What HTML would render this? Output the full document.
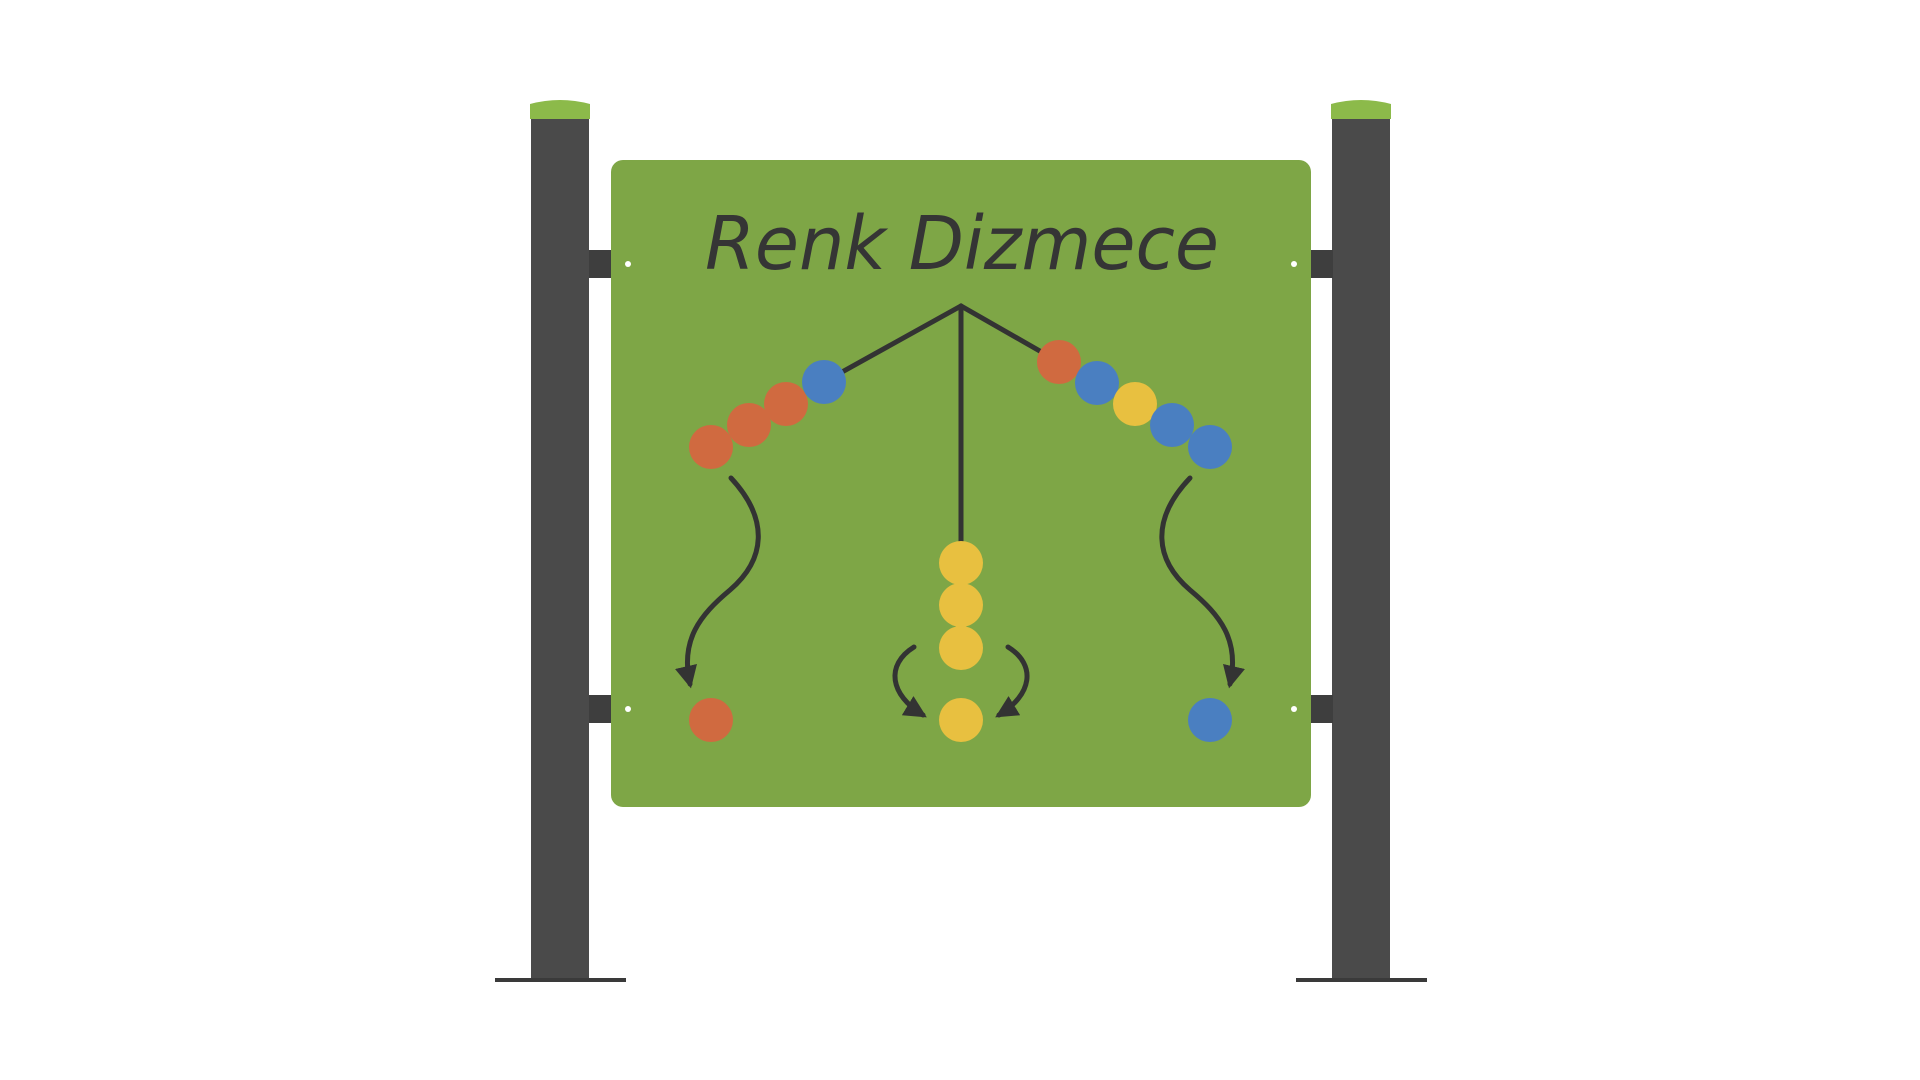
<!DOCTYPE html>
<html><head><style>html,body{margin:0;padding:0;background:#fff;width:1920px;height:1080px;overflow:hidden}</style></head>
<body>
<svg width="1920" height="1080" viewBox="0 0 1920 1080" xmlns="http://www.w3.org/2000/svg">
<defs>
<marker id="ah" viewBox="0 0 10 10" refX="8" refY="5" markerWidth="4.5" markerHeight="4.5" orient="auto"><path d="M0,0 L10,5 L0,10 Z" fill="#333"/></marker>
</defs>
<!-- posts -->
<rect x="531" y="112" width="58" height="868" fill="#4a4a4a"/>
<path d="M530,104 Q560,96 590,104 L590,119 L530,119 Z" fill="#8cba4a"/>
<rect x="495" y="978" width="131" height="4" fill="#3a3a3a"/>
<rect x="1332" y="112" width="58" height="868" fill="#4a4a4a"/>
<path d="M1331,104 Q1361,96 1391,104 L1391,119 L1331,119 Z" fill="#8cba4a"/>
<rect x="1296" y="978" width="131" height="4" fill="#3a3a3a"/>
<!-- brackets -->
<rect x="589" y="250" width="25" height="28" fill="#3e3e3e"/>
<rect x="589" y="695" width="25" height="28" fill="#3e3e3e"/>
<rect x="1308" y="250" width="25" height="28" fill="#3e3e3e"/>
<rect x="1308" y="695" width="25" height="28" fill="#3e3e3e"/>
<!-- panel -->
<rect x="611" y="160" width="700" height="647" rx="12" fill="#7ea646"/>
<circle cx="628" cy="264" r="3" fill="#fff"/><circle cx="628" cy="709" r="3" fill="#fff"/>
<circle cx="1294" cy="264" r="3" fill="#fff"/><circle cx="1294" cy="709" r="3" fill="#fff"/>
<text x="705" y="269" font-family="DejaVu Sans, Liberation Sans, sans-serif" font-style="italic" font-size="74" fill="#353535" textLength="514" lengthAdjust="spacingAndGlyphs">Renk Dizmece</text>
<!-- strings -->
<g stroke="#333" stroke-width="5" fill="none" stroke-linecap="round">
<path d="M824,382 L961,306 L1059,362"/>
<path d="M961,306 L961,545"/>
<path d="M731,478 C770,520 765,560 730,590 C700,615 680,640 690,684" marker-end="url(#ah)"/>
<path d="M1190,478 C1150,520 1155,560 1190,590 C1220,615 1240,640 1230,684" marker-end="url(#ah)"/>
<path d="M914,647 C885,665 890,695 923,715" marker-end="url(#ah)"/>
<path d="M1008,647 C1037,665 1032,695 999,715" marker-end="url(#ah)"/>
</g>
<!-- beads -->
<g>
<circle cx="711" cy="447" r="22" fill="#d06a40"/>
<circle cx="749" cy="425" r="22" fill="#d06a40"/>
<circle cx="786" cy="404" r="22" fill="#d06a40"/>
<circle cx="824" cy="382" r="22" fill="#4a7fc1"/>
<circle cx="1059" cy="362" r="22" fill="#d06a40"/>
<circle cx="1097" cy="383" r="22" fill="#4a7fc1"/>
<circle cx="1135" cy="404" r="22" fill="#e8c040"/>
<circle cx="1172" cy="425" r="22" fill="#4a7fc1"/>
<circle cx="1210" cy="447" r="22" fill="#4a7fc1"/>
<circle cx="961" cy="563" r="22" fill="#e8c040"/>
<circle cx="961" cy="605" r="22" fill="#e8c040"/>
<circle cx="961" cy="648" r="22" fill="#e8c040"/>
<circle cx="961" cy="720" r="22" fill="#e8c040"/>
<circle cx="711" cy="720" r="22" fill="#d06a40"/>
<circle cx="1210" cy="720" r="22" fill="#4a7fc1"/>
</g>
</svg>
</body></html>
